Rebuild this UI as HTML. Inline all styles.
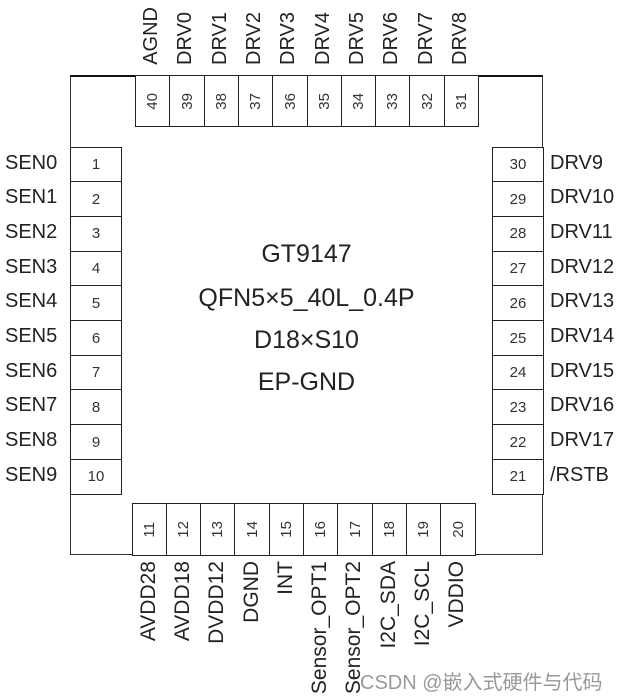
<!DOCTYPE html>
<html><head><style>
body{margin:0;width:620px;height:698px;background:#fff;position:relative;overflow:hidden;font-family:"Liberation Sans","DejaVu Sans",sans-serif;color:#222}
.a{position:absolute}
.body{left:70px;top:75px;width:473px;height:480px;border:1px solid #333;box-sizing:border-box;border-top:2px solid #111}
.p{position:absolute;border:1.5px solid #222;box-sizing:border-box;background:#fff;display:flex;align-items:center;justify-content:center;font-size:15px;color:#333}
.v{writing-mode:vertical-rl;transform:rotate(180deg)}
.lbl{position:absolute;font-size:20px;color:#222;white-space:nowrap}
.c{position:absolute;left:70px;width:473px;text-align:center;font-size:25px;color:#222}
</style></head><body>
<div class="a body"></div>
<div id="pins"></div>
<div class="c" style="top:240px">GT9147</div>
<div class="c" style="top:284px">QFN5×5_40L_0.4P</div>
<div class="c" style="top:326px">D18×S10</div>
<div class="c" style="top:368px">EP-GND</div>
<div class="a" style="left:360px;top:666px;font-size:20px;color:#999;white-space:nowrap;font-family:'Liberation Sans','Noto Sans CJK SC',sans-serif">CSDN @嵌入式硬件与代码</div>
<script>
(function(){
var h='';
var tp=[['40','AGND'],['39','DRV0'],['38','DRV1'],['37','DRV2'],['36','DRV3'],['35','DRV4'],['34','DRV5'],['33','DRV6'],['32','DRV7'],['31','DRV8']];
var w=34.3;
tp.forEach(function(t,i){var x=135+i*w;
h+='<div class="p" style="left:'+x+'px;top:75px;width:'+(w+1.5)+'px;height:52px"><span class="v">'+t[0]+'</span></div>';
h+='<div class="lbl v" style="left:'+(x+w/2-12)+'px;bottom:633px">'+t[1]+'</div>';});
var bot=['AVDD28','AVDD18','DVDD12','DGND','INT','Sensor_OPT1','Sensor_OPT2','I2C_SDA','I2C_SCL','VDDIO'];
bot.forEach(function(t,i){var x=131.5+i*w;
h+='<div class="p" style="left:'+x+'px;top:503px;width:'+(w+1.5)+'px;height:53px"><span class="v">'+(11+i)+'</span></div>';
h+='<div class="lbl v" style="left:'+(x+w/2-12)+'px;top:561px;font-size:21px">'+t+'</div>';});
var rh=34.7;
for(var i=0;i<10;i++){var y=146.5+i*rh;
h+='<div class="p" style="left:70px;top:'+y+'px;width:52px;height:'+(rh+1.5)+'px">'+(i+1)+'</div>';
h+='<div class="lbl" style="left:5px;top:'+(y+5)+'px">SEN'+i+'</div>';
h+='<div class="p" style="left:492px;top:'+y+'px;width:52px;height:'+(rh+1.5)+'px">'+(30-i)+'</div>';
h+='<div class="lbl" style="left:550px;top:'+(y+5)+'px">'+(i<9?'DRV'+(9+i):'/RSTB')+'</div>';}
document.getElementById('pins').innerHTML=h;
})();
</script>
</body></html>
